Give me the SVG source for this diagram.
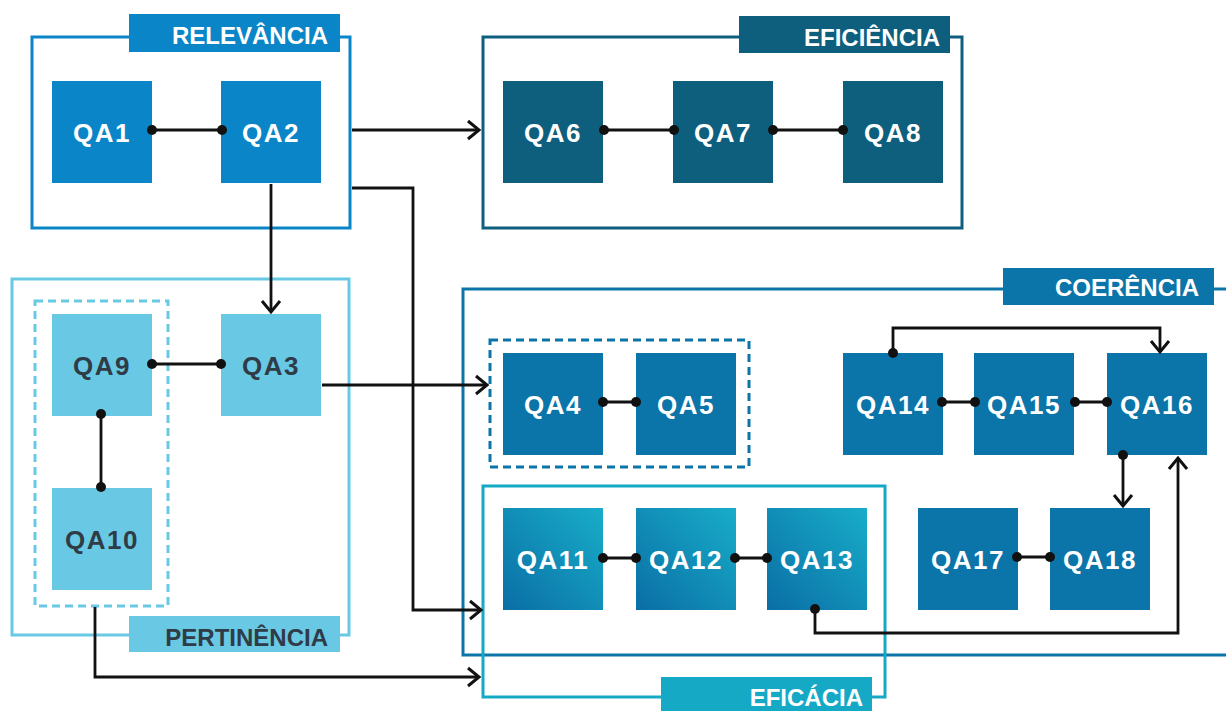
<svg xmlns="http://www.w3.org/2000/svg" width="1226" height="711" viewBox="0 0 1226 711">
<style>
.frame{fill:none;stroke-width:3}
.lbl{font-family:"Liberation Sans",Arial,sans-serif;font-weight:bold;font-size:24px;fill:#fff;text-anchor:end}
.qa{font-family:"Liberation Sans",Arial,sans-serif;font-weight:bold;font-size:26px;fill:#fff;text-anchor:middle;letter-spacing:1.5px}
.dark{fill:#2f3b45}
.ln{fill:none;stroke:#111;stroke-width:2.8}
.dot{fill:#111}
</style>
<defs>
<linearGradient id="gEf" x1="0" y1="1" x2="1" y2="0">
<stop offset="0" stop-color="#0a6ea5"/>
<stop offset="1" stop-color="#18adc9"/>
</linearGradient>
<marker id="arr" markerUnits="userSpaceOnUse" markerWidth="18" markerHeight="22" refX="13" refY="11" orient="auto" viewBox="0 0 18 22">
<path d="M2,2 L13,11 L2,20" fill="none" stroke="#111" stroke-width="3"/>
</marker>
</defs>

<g id="relevancia">
<rect class="frame" x="32" y="37" width="318" height="191" stroke="#0a86c8"/>
<rect x="129" y="14" width="211" height="38" fill="#0a86c8"/>
<text class="lbl" x="328" y="44">RELEVÂNCIA</text>
</g>
<g id="eficiencia">
<rect class="frame" x="483" y="37" width="479" height="191" stroke="#0e5e7e"/>
<rect x="739" y="16" width="211" height="37" fill="#0e5e7e"/>
<text class="lbl" x="940" y="46">EFICIÊNCIA</text>
</g>
<g id="pertinencia">
<rect class="frame" x="12" y="279" width="337" height="356" stroke="#69c9e5"/>
<rect x="35" y="301" width="133" height="305" fill="none" stroke="#69c9e5" stroke-width="3" stroke-dasharray="8,5"/>
<rect x="129" y="616" width="211" height="36" fill="#69c9e5"/>
<text class="lbl dark" x="328" y="646">PERTINÊNCIA</text>
</g>
<g id="coerencia">
<path class="frame" d="M1226,289 H463 V655 H1226" stroke="#0b74a9"/>
<rect x="490" y="340" width="259" height="127" fill="none" stroke="#0b74a9" stroke-width="3" stroke-dasharray="8,5"/>
<rect x="1003" y="268" width="211" height="37" fill="#0b74a9"/>
<text class="lbl" x="1199" y="296">COERÊNCIA</text>
</g>
<g id="eficacia">
<rect class="frame" x="483" y="486" width="402" height="211" stroke="#16a9c6"/>
<rect x="661" y="677" width="211" height="40" fill="#16a9c6"/>
<text class="lbl" x="863" y="706">EFICÁCIA</text>
</g>

<g id="QA1"><rect x="52" y="81" width="100" height="102" fill="#0a86c8"/><text class="qa" x="102" y="142">QA1</text></g>
<g id="QA2"><rect x="221" y="81" width="100" height="102" fill="#0a86c8"/><text class="qa" x="271" y="142">QA2</text></g>
<g id="QA6"><rect x="503" y="81" width="100" height="102" fill="#0e5e7e"/><text class="qa" x="553" y="142">QA6</text></g>
<g id="QA7"><rect x="673" y="81" width="100" height="102" fill="#0e5e7e"/><text class="qa" x="723" y="142">QA7</text></g>
<g id="QA8"><rect x="843" y="81" width="100" height="102" fill="#0e5e7e"/><text class="qa" x="893" y="142">QA8</text></g>
<g id="QA9"><rect x="52" y="314" width="100" height="102" fill="#69c9e5"/><text class="qa dark" x="102" y="375">QA9</text></g>
<g id="QA3"><rect x="221" y="314" width="100" height="102" fill="#69c9e5"/><text class="qa dark" x="271" y="375">QA3</text></g>
<g id="QA10"><rect x="52" y="488" width="100" height="102" fill="#69c9e5"/><text class="qa dark" x="102" y="549">QA10</text></g>
<g id="QA4"><rect x="503" y="353" width="100" height="102" fill="#0b74a9"/><text class="qa" x="553" y="414">QA4</text></g>
<g id="QA5"><rect x="636" y="353" width="100" height="102" fill="#0b74a9"/><text class="qa" x="686" y="414">QA5</text></g>
<g id="QA14"><rect x="843" y="353" width="100" height="102" fill="#0b74a9"/><text class="qa" x="893" y="414">QA14</text></g>
<g id="QA15"><rect x="974" y="353" width="100" height="102" fill="#0b74a9"/><text class="qa" x="1024" y="414">QA15</text></g>
<g id="QA16"><rect x="1107" y="353" width="100" height="102" fill="#0b74a9"/><text class="qa" x="1157" y="414">QA16</text></g>
<g id="QA17"><rect x="918" y="508" width="100" height="102" fill="#0b74a9"/><text class="qa" x="968" y="569">QA17</text></g>
<g id="QA18"><rect x="1050" y="508" width="100" height="102" fill="#0b74a9"/><text class="qa" x="1100" y="569">QA18</text></g>
<g id="QA11"><rect x="503" y="508" width="100" height="102" fill="url(#gEf)"/><text class="qa" x="553" y="569">QA11</text></g>
<g id="QA12"><rect x="636" y="508" width="100" height="102" fill="url(#gEf)"/><text class="qa" x="686" y="569">QA12</text></g>
<g id="QA13"><rect x="767" y="508" width="100" height="102" fill="url(#gEf)"/><text class="qa" x="817" y="569">QA13</text></g>

<g id="connectors">
<path class="ln" d="M352,130 H479" marker-end="url(#arr)"/>
<path class="ln" d="M352,188 H413 V610 H481" marker-end="url(#arr)"/>
<path class="ln" d="M271,184 V312" marker-end="url(#arr)"/>
<path class="ln" d="M322,385 H487" marker-end="url(#arr)"/>
<path class="ln" d="M95,607 V677 H479" marker-end="url(#arr)"/>
<path class="ln" d="M815,609 V633 H1178 V458" marker-end="url(#arr)"/>
<path class="ln" d="M893,353 V328 H1160 V352" marker-end="url(#arr)"/>
<path class="ln" d="M1123,455 V506" marker-end="url(#arr)"/>
<path class="ln" d="M152,130 H222 M604,130 H674 M773,130 H843 M152,364 H221 M101,414 V487 M603,402 H636 M603,558 H636 M735,558 H767 M942,402 H975 M1075,402 H1107 M1017,557 H1050"/>
<circle class="dot" cx="152" cy="130" r="5"/><circle class="dot" cx="222" cy="130" r="5"/>
<circle class="dot" cx="604" cy="130" r="5"/><circle class="dot" cx="674" cy="130" r="5"/>
<circle class="dot" cx="773" cy="130" r="5"/><circle class="dot" cx="843" cy="130" r="5"/>
<circle class="dot" cx="152" cy="364" r="5"/><circle class="dot" cx="221" cy="364" r="5"/>
<circle class="dot" cx="101" cy="414" r="5"/><circle class="dot" cx="101" cy="487" r="5"/>
<circle class="dot" cx="603" cy="402" r="5"/><circle class="dot" cx="636" cy="402" r="5"/>
<circle class="dot" cx="603" cy="558" r="5"/><circle class="dot" cx="636" cy="558" r="5"/>
<circle class="dot" cx="735" cy="558" r="5"/><circle class="dot" cx="767" cy="558" r="5"/>
<circle class="dot" cx="942" cy="402" r="5"/><circle class="dot" cx="975" cy="402" r="5"/>
<circle class="dot" cx="1075" cy="402" r="5"/><circle class="dot" cx="1107" cy="402" r="5"/>
<circle class="dot" cx="1017" cy="557" r="5"/><circle class="dot" cx="1050" cy="557" r="5"/>
<circle class="dot" cx="815" cy="609" r="5"/>
<circle class="dot" cx="893" cy="353" r="5"/>
<circle class="dot" cx="1123" cy="455" r="5"/>
</g>
</svg>
